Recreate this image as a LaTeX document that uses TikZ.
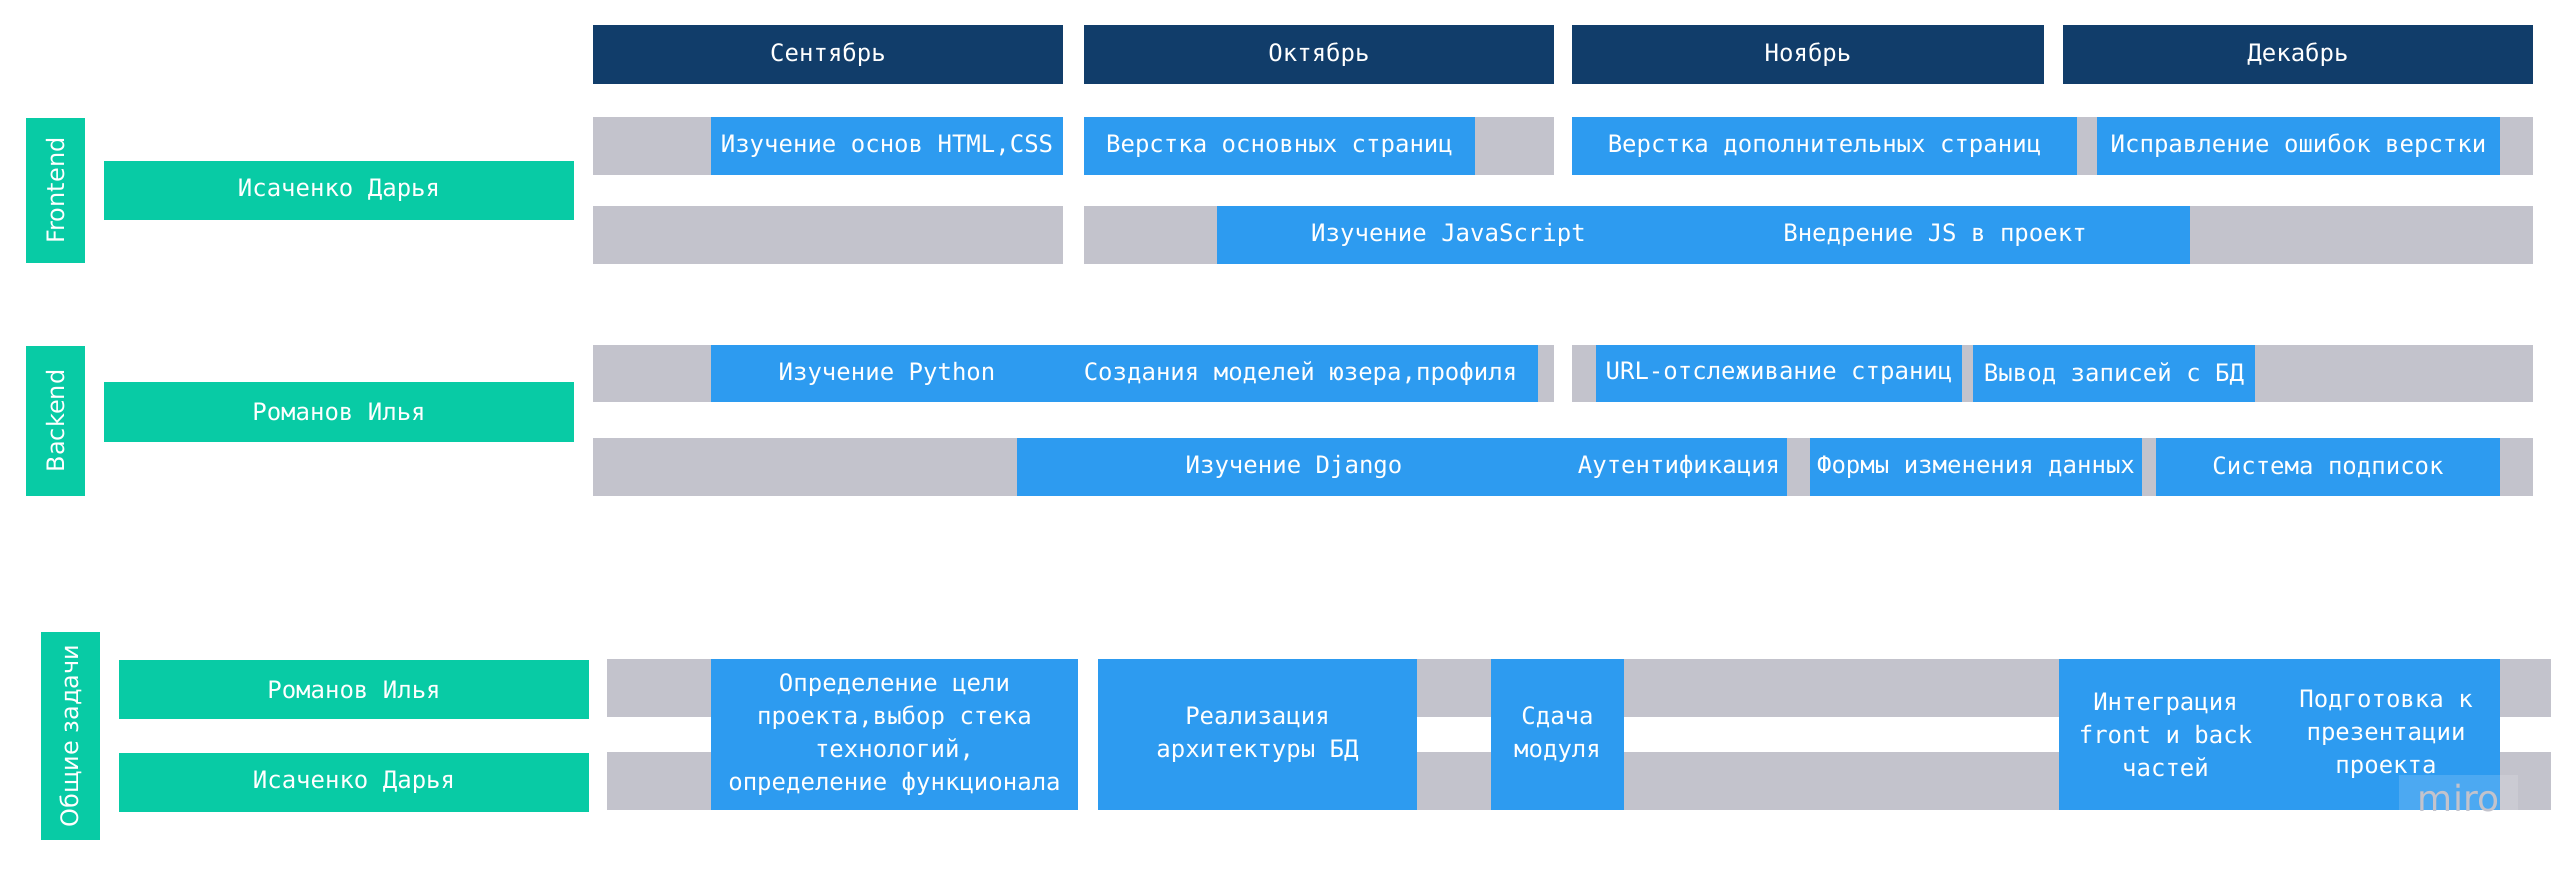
\documentclass[tikz,border=0pt]{standalone}
\usepackage{fontspec}
\newfontfamily\monofont{DejaVu Sans Mono}
\newfontfamily\sidefont{DejaVu Sans}
\definecolor{navy}{HTML}{113D6A}
\definecolor{mintgreen}{HTML}{08CBA5}
\definecolor{taskblue}{HTML}{2D9BF0}
\definecolor{slotgray}{HTML}{C3C3CC}
\newcommand\blk[7]{\node[#1, minimum width={(#4-#2)*1pt}, minimum height={(#5-#3)*1pt}] (#6) at ({(#2+#4)/2},{(#3+#5)/2}) {#7};}
\begin{document}
\begin{tikzpicture}[x=1pt,y=-1pt,line join=round]
				\tikzset{every node/.style={inner sep=0pt,outer sep=0pt,text=white},
					month/.style={fill=navy,font=\monofont\fontsize{24}{30}\selectfont},
					person/.style={fill=mintgreen,font=\monofont\fontsize{24}{30}\selectfont},
					task/.style={fill=taskblue,align=center,font=\monofont\fontsize{24}{33}\selectfont},
					side/.style={fill=mintgreen,rotate=90,font=\sidefont\fontsize{24}{30}\selectfont}}
				\useasboundingbox[fill=white] (0,0) rectangle (2559,879);
				\blk{month}{593}{25}{1063}{84}{sep}{Сентябрь}
				\blk{month}{1084}{25}{1554}{84}{oct}{Октябрь}
				\blk{month}{1572}{25}{2044}{84}{nov}{Ноябрь}
				\blk{month}{2063}{25}{2533}{84}{dec}{Декабрь}
				\begin{scope}
					\foreach \xa/\xb/\ya/\yb in {593/1063/117/175,1084/1554/117/175,1572/2533/117/175,593/1063/206/264,1084/2533/206/264,593/1063/345/402,1084/1554/345/402,1572/2533/345/402,593/2533/438/496,607/1078/659/717,1098/2551/659/717,607/1078/752/810,1098/2551/752/810}
					\fill[slotgray] (\xa,\ya) rectangle (\xb,\yb);
				\end{scope}
				\node[side,minimum width=145,minimum height=59] (front) at (55.5,190.5) {Frontend};
				\blk{person}{104}{161}{574}{220}{daria}{Исаченко Дарья}
				\blk{task}{711}{117}{1063}{175}{html}{Изучение основ HTML,CSS}
				\blk{task}{1084}{117}{1475}{175}{mainpg}{Верстка основных страниц}
				\blk{task}{1572}{117}{2077}{175}{extrapg}{Верстка дополнительных страниц}
				\blk{task}{2097}{117}{2500}{175}{fixes}{Исправление ошибок верстки}
				\blk{task}{1217}{206}{1680}{264}{js}{Изучение JavaScript}
				\blk{task}{1680}{206}{2190}{264}{jsin}{Внедрение JS в проект}
				\node[side,minimum width=150,minimum height=59] (back) at (55.5,421) {Backend};
				\blk{person}{104}{382}{574}{442}{ilya}{Романов Илья}
				\blk{task}{711}{345}{1063}{402}{py}{Изучение Python}
				\blk{task}{1063}{345}{1538}{402}{models}{Создания моделей юзера,профиля}
				\blk{task}{1596}{345}{1962}{402}{urls}{URL-отслеживание страниц}
				\blk{task}{1973}{345}{2255}{402}{dbout}{Вывод записей с БД}
				\blk{task}{1017}{438}{1571}{496}{django}{Изучение Django}
				\blk{task}{1571}{438}{1787}{496}{auth}{Аутентификация}
				\blk{task}{1810}{438}{2142}{496}{forms}{Формы изменения данных}
				\blk{task}{2156}{438}{2500}{496}{subs}{Система подписок}
				\node[side,minimum width=208,minimum height=59] (common) at (70.5,736) {Общие задачи};
				\blk{person}{119}{660}{589}{719}{ilyab}{Романов Илья}
				\blk{person}{119}{753}{589}{812}{dariab}{Исаченко Дарья}
				\blk{task}{711}{659}{1078}{810}{goal}{Определение цели\\проекта,выбор стека\\технологий,\\определение функционала}
				\blk{task}{1098}{659}{1417}{810}{dbarch}{Реализация\\архитектуры БД}
				\blk{task}{1491}{659}{1624}{810}{module}{Сдача\\модуля}
				\blk{task}{2059}{659}{2272}{810}{integr}{Интеграция\\front и back\\частей}
				\blk{task}{2272}{659}{2500}{810}{pres}{Подготовка к\\презентации\\проекта}
				\node[fill=white,fill opacity=0.15,text opacity=1,text=slotgray,minimum width=119,minimum height=46,anchor=north west,font=\sidefont\fontsize{36}{36}\selectfont] (miro) at (2399,775) {\raisebox{-10pt}{miro}};
			\end{tikzpicture}
\end{document}
